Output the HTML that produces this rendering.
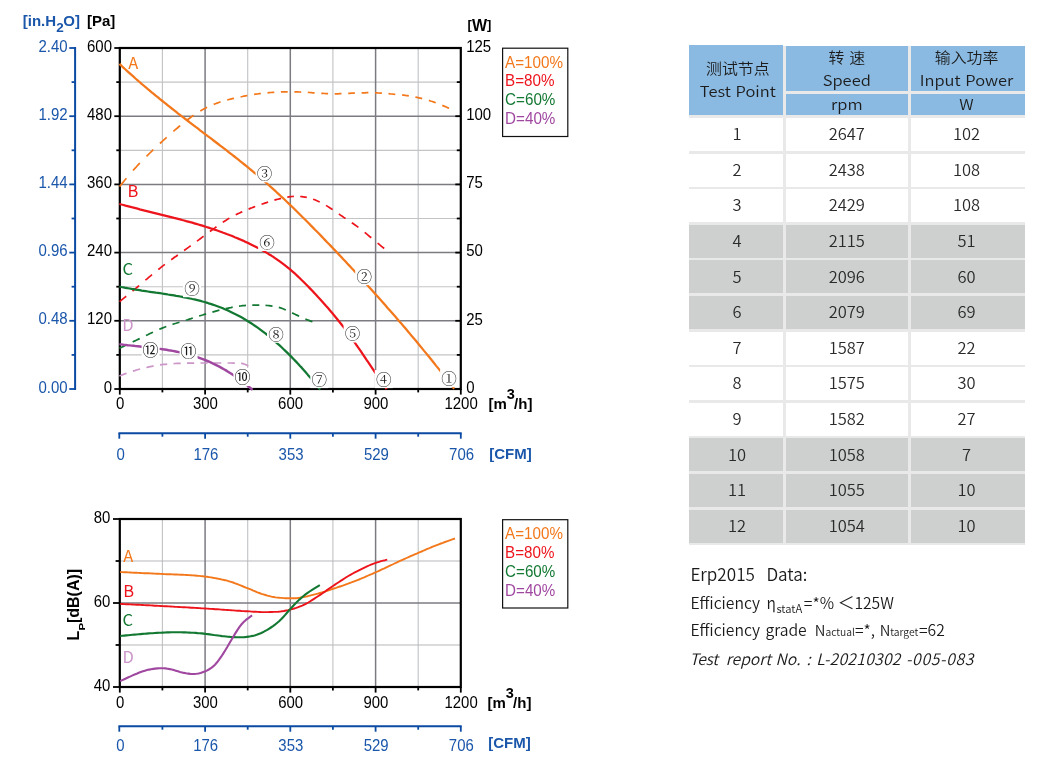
<!DOCTYPE html>
<html lang="zh">
<head>
<meta charset="utf-8">
<title>Fan performance curves</title>
<style>
html,body{margin:0;padding:0;background:#fff}
body{width:1054px;height:773px;position:relative;overflow:hidden;font-family:'Liberation Sans','Noto Sans CJK SC',sans-serif}
svg text{white-space:pre}
.sep{position:absolute;background:#e9e9ea}
.c{position:absolute;overflow:visible}
.c span{position:absolute;left:0;right:0;display:block;text-align:center;white-space:nowrap;font-family:'Noto Sans CJK SC','Liberation Sans',sans-serif;font-size:16.5px;line-height:22px;color:#1c1c1c;font-weight:350;word-spacing:1px;transform:scaleY(0.91);transform-origin:center center}
.c span.z{font-size:15.9px;word-spacing:1.5px}
.c span.g{font-size:16.5px;color:#2a2a2a;transform:scaleY(0.94)}
</style>
</head>
<body>
<svg width="1054" height="773" viewBox="0 0 1054 773" style="position:absolute;left:0;top:0">
<g id="chart1">
<line x1="162.4" y1="48" x2="162.4" y2="389" stroke="#c3c4c6" stroke-width="1.15"/>
<line x1="247.7" y1="48" x2="247.7" y2="389" stroke="#c3c4c6" stroke-width="1.15"/>
<line x1="332.9" y1="48" x2="332.9" y2="389" stroke="#c3c4c6" stroke-width="1.15"/>
<line x1="418.2" y1="48" x2="418.2" y2="389" stroke="#c3c4c6" stroke-width="1.15"/>
<line x1="119.8" y1="82.1" x2="460.8" y2="82.1" stroke="#c3c4c6" stroke-width="1.15"/>
<line x1="119.8" y1="150.3" x2="460.8" y2="150.3" stroke="#c3c4c6" stroke-width="1.15"/>
<line x1="119.8" y1="218.5" x2="460.8" y2="218.5" stroke="#c3c4c6" stroke-width="1.15"/>
<line x1="119.8" y1="286.7" x2="460.8" y2="286.7" stroke="#c3c4c6" stroke-width="1.15"/>
<line x1="119.8" y1="354.9" x2="460.8" y2="354.9" stroke="#c3c4c6" stroke-width="1.15"/>
<line x1="205.1" y1="48" x2="205.1" y2="389" stroke="#7c7b81" stroke-width="1.5"/>
<line x1="290.3" y1="48" x2="290.3" y2="389" stroke="#7c7b81" stroke-width="1.5"/>
<line x1="375.6" y1="48" x2="375.6" y2="389" stroke="#7c7b81" stroke-width="1.5"/>
<line x1="119.8" y1="116.2" x2="460.8" y2="116.2" stroke="#7c7b81" stroke-width="1.5"/>
<line x1="119.8" y1="184.4" x2="460.8" y2="184.4" stroke="#7c7b81" stroke-width="1.5"/>
<line x1="119.8" y1="252.6" x2="460.8" y2="252.6" stroke="#7c7b81" stroke-width="1.5"/>
<line x1="119.8" y1="320.8" x2="460.8" y2="320.8" stroke="#7c7b81" stroke-width="1.5"/>
<g stroke="#000" fill="none">
<rect x="119.8" y="48" width="341" height="341" stroke-width="2.2"/>
<g stroke-width="1.8">
<line x1="114.3" y1="48" x2="119.8" y2="48"/>
<line x1="455.3" y1="48" x2="460.8" y2="48"/>
<line x1="116.3" y1="82.1" x2="119.8" y2="82.1"/>
<line x1="456.8" y1="82.1" x2="460.8" y2="82.1"/>
<line x1="114.3" y1="116.2" x2="119.8" y2="116.2"/>
<line x1="455.3" y1="116.2" x2="460.8" y2="116.2"/>
<line x1="116.3" y1="150.3" x2="119.8" y2="150.3"/>
<line x1="456.8" y1="150.3" x2="460.8" y2="150.3"/>
<line x1="114.3" y1="184.4" x2="119.8" y2="184.4"/>
<line x1="455.3" y1="184.4" x2="460.8" y2="184.4"/>
<line x1="116.3" y1="218.5" x2="119.8" y2="218.5"/>
<line x1="456.8" y1="218.5" x2="460.8" y2="218.5"/>
<line x1="114.3" y1="252.6" x2="119.8" y2="252.6"/>
<line x1="455.3" y1="252.6" x2="460.8" y2="252.6"/>
<line x1="116.3" y1="286.7" x2="119.8" y2="286.7"/>
<line x1="456.8" y1="286.7" x2="460.8" y2="286.7"/>
<line x1="114.3" y1="320.8" x2="119.8" y2="320.8"/>
<line x1="455.3" y1="320.8" x2="460.8" y2="320.8"/>
<line x1="116.3" y1="354.9" x2="119.8" y2="354.9"/>
<line x1="456.8" y1="354.9" x2="460.8" y2="354.9"/>
<line x1="114.3" y1="389" x2="119.8" y2="389"/>
<line x1="455.3" y1="389" x2="460.8" y2="389"/>
<line x1="119.8" y1="389" x2="119.8" y2="394.6"/>
<line x1="162.4" y1="389" x2="162.4" y2="392.4"/>
<line x1="205.1" y1="389" x2="205.1" y2="394.6"/>
<line x1="247.7" y1="389" x2="247.7" y2="392.4"/>
<line x1="290.3" y1="389" x2="290.3" y2="394.6"/>
<line x1="332.9" y1="389" x2="332.9" y2="392.4"/>
<line x1="375.6" y1="389" x2="375.6" y2="394.6"/>
<line x1="418.2" y1="389" x2="418.2" y2="392.4"/>
<line x1="460.8" y1="389" x2="460.8" y2="394.6"/>
</g></g>
<g fill="none" stroke-linecap="butt" stroke-linejoin="round">
<path d="M119.4 376 L121.2 375.3 L123 374.6 L124.8 373.9 L126.6 373.3 M132.9 371.1 L134.7 370.6 L136.5 370 L138.3 369.5 L140.1 369 M146.4 367.5 L148.2 367.1 L150 366.7 L151.8 366.3 L153.6 365.9 M160 364.8 L161.8 364.6 L163.6 364.4 L165.4 364.3 L167.2 364.1 M173.5 363.6 L175.3 363.5 L177.1 363.4 L178.9 363.3 L180.7 363.3 M187 363.1 L188.8 363.1 L190.6 363.1 L192.4 363.1 L194.2 363.1 M200.5 363 L202.3 363 L204.1 363 L205.9 363 L207.7 363 M214.1 363 L215.9 363 L217.7 363 L219.5 363 L221.3 363 M227.6 363 L229.4 363 L231.2 363 L233 363.1 L234.8 363.1 M241.1 363.4 L242.9 363.6 L244.7 364.2 L246.5 365 L248.3 365.9" stroke="#cc96c8" stroke-width="1.7"/>
<path d="M119.4 348.3 L121.2 347.5 L122.9 346.6 L124.7 345.8 L126.4 345 M132.7 342 L134.4 341.1 L136.2 340.3 L137.9 339.4 L139.7 338.6 M146 335.5 L147.7 334.7 L149.5 333.8 L151.2 333 L153 332.2 M159.3 329.3 L161 328.6 L162.8 327.9 L164.5 327.2 L166.3 326.5 M172.5 324.4 L174.3 323.8 L176 323.3 L177.8 322.7 L179.5 322.2 M185.8 320.2 L187.6 319.7 L189.3 319.1 L191.1 318.6 L192.8 318 M199.1 316 L200.9 315.5 L202.6 315 L204.4 314.4 L206.1 313.9 M212.4 312.1 L214.1 311.6 L215.9 311.1 L217.6 310.6 L219.4 310.2 M225.7 308.7 L227.4 308.3 L229.2 307.9 L230.9 307.6 L232.7 307.2 M239 306.2 L240.7 306 L242.5 305.7 L244.2 305.6 L246 305.4 M252.3 305.1 L254 305.1 L255.8 305.1 L257.5 305.1 L259.3 305.1 M265.5 305.4 L267.3 305.5 L269 305.7 L270.8 305.9 L272.5 306.1 M278.8 307.4 L280.6 307.9 L282.3 308.5 L284.1 309.2 L285.8 310 M292.1 312.9 L293.9 313.7 L295.6 314.6 L297.4 315.4 L299.1 316.2 M305.4 319 L307.1 319.7 L308.9 320.4 L310.6 321.1 L312.4 321.8" stroke="#127832" stroke-width="1.7"/>
<path d="M119.6 301.6 L121.2 300.3 L122.9 298.9 L124.5 297.6 L126.2 296.3 M132.5 291.1 L134.2 289.7 L135.8 288.3 L137.4 287 L139.1 285.6 M145.4 280.2 L147.1 278.8 L148.7 277.4 L150.3 276.1 L152 274.7 M158.3 269.5 L160 268.2 L161.6 266.9 L163.2 265.6 L164.9 264.4 M171.2 259.7 L172.9 258.5 L174.5 257.3 L176.2 256.2 L177.8 255 M184.1 250.5 L185.8 249.3 L187.4 248.1 L189.1 246.9 L190.7 245.7 M197 241.1 L198.7 239.9 L200.3 238.7 L202 237.4 L203.6 236.2 M209.9 231.5 L211.6 230.3 L213.2 229.1 L214.9 227.9 L216.5 226.7 M222.8 222.3 L224.5 221.2 L226.1 220.2 L227.8 219.1 L229.4 218.2 M235.7 214.8 L237.4 213.9 L239 213.2 L240.7 212.4 L242.3 211.7 M248.6 209.1 L250.3 208.4 L251.9 207.8 L253.6 207.1 L255.2 206.5 M261.5 204.3 L263.2 203.7 L264.8 203.1 L266.5 202.6 L268.1 202 M274.4 200.1 L276.1 199.6 L277.7 199.2 L279.4 198.8 L281 198.4 M287.3 197.1 L289 196.9 L290.6 196.7 L292.2 196.5 L293.9 196.4 M300.2 196.5 L301.9 196.7 L303.5 196.9 L305.1 197.1 L306.8 197.4 M313.1 199.2 L314.8 199.8 L316.4 200.5 L318 201.2 L319.7 202 M326 205.4 L327.6 206.4 L329.3 207.5 L330.9 208.5 L332.6 209.6 M338.9 214 L340.5 215.1 L342.2 216.2 L343.8 217.4 L345.5 218.5 M351.8 222.7 L353.4 223.8 L355.1 225 L356.7 226.1 L358.4 227.4 M364.7 232.3 L366.3 233.7 L368 235.1 L369.6 236.5 L371.3 237.8 M377.6 243.1 L379.2 244.4 L380.9 245.8 L382.5 247.1 L384.2 248.5" stroke="#ed141c" stroke-width="1.7"/>
<path d="M119.6 186.5 L121.3 184.4 L123 182.4 L124.7 180.3 L126.4 178.3 M133 170.5 L134.7 168.6 L136.4 166.8 L138.1 164.9 L139.8 163.1 M146.5 156.3 L148.2 154.7 L149.9 153 L151.6 151.4 L153.3 149.7 M159.9 143.5 L161.6 142 L163.3 140.4 L165 138.8 L166.7 137.3 M173.4 131.4 L175.1 129.9 L176.8 128.5 L178.5 127 L180.2 125.6 M186.8 120.3 L188.5 119 L190.2 117.7 L191.9 116.5 L193.6 115.3 M200.3 111 L202 110 L203.7 109.1 L205.4 108.2 L207.1 107.3 M213.7 104.4 L215.4 103.7 L217.1 103.1 L218.8 102.5 L220.5 101.9 M227.2 100 L228.9 99.5 L230.6 99.1 L232.3 98.7 L234 98.3 M240.6 96.8 L242.3 96.5 L244 96.1 L245.7 95.8 L247.4 95.5 M254.1 94.4 L255.8 94.2 L257.5 94 L259.2 93.7 L260.9 93.5 M267.5 92.8 L269.2 92.6 L270.9 92.5 L272.6 92.4 L274.3 92.3 M280.9 91.9 L282.6 91.9 L284.3 91.8 L286 91.8 L287.7 91.8 M294.4 91.8 L296.1 91.9 L297.8 91.9 L299.5 92 L301.2 92.1 M307.8 92.4 L309.5 92.5 L311.2 92.6 L312.9 92.8 L314.6 92.9 M321.3 93.3 L323 93.4 L324.7 93.5 L326.4 93.6 L328.1 93.7 M334.7 93.8 L336.4 93.8 L338.1 93.8 L339.8 93.7 L341.5 93.6 M348.2 93.4 L349.9 93.3 L351.6 93.2 L353.3 93.1 L355 93 M361.6 92.8 L363.3 92.8 L365 92.8 L366.7 92.7 L368.4 92.7 M375.1 92.9 L376.8 92.9 L378.5 93 L380.2 93.1 L381.9 93.2 M388.5 93.7 L390.2 93.9 L391.9 94 L393.6 94.2 L395.3 94.3 M402 95 L403.7 95.1 L405.4 95.4 L407.1 95.6 L408.8 95.9 M415.4 97.1 L417.1 97.4 L418.8 97.8 L420.5 98.2 L422.2 98.6 M428.9 100.4 L430.6 101 L432.3 101.5 L434 102.1 L435.7 102.7 M442.3 105.4 L444 106.1 L445.7 106.8 L447.4 107.6 L449.1 108.3" stroke="#f3781b" stroke-width="1.7"/>
<path d="M119.4 344.1 L121.4 344.4 L123.5 344.7 L125.5 344.9 L127.6 345.2 L129.6 345.4 L131.7 345.6 L133.7 345.8 L135.8 346.1 L137.8 346.3 L139.9 346.5 L141.9 346.7 L144 347 L146 347.2 L148.1 347.4 L150.1 347.6 L152.2 347.9 L154.2 348.1 L156.3 348.4 L158.3 348.7 L160.4 348.9 L162.4 349.2 L164.5 349.5 L166.5 349.8 L168.6 350.2 L170.6 350.5 L172.7 350.9 L174.7 351.3 L176.8 351.7 L178.8 352.1 L180.9 352.6 L182.9 353 L185 353.5 L187 354.1 L189.1 354.6 L191.1 355.2 L193.2 355.8 L195.2 356.5 L197.3 357.1 L199.3 357.8 L201.4 358.6 L203.4 359.4 L205.5 360.2 L207.5 361 L209.6 361.9 L211.6 362.8 L213.7 363.8 L215.7 364.8 L217.8 365.9 L219.8 366.9 L221.9 368.1 L223.9 369.2 L226 370.4 L228 371.7 L230.1 373 L232.1 374.3 L234.2 375.7 L236.2 377.1 L238.3 378.5 L240.3 380 L242.4 381.6 L244.4 383.1 L246.5 384.8 L248.5 386.4 L250.6 388.2 L252.6 389.9" stroke="#a048a0" stroke-width="2.45"/>
<path d="M119.4 286.5 L121.4 287 L123.5 287.4 L125.5 287.8 L127.5 288.2 L129.5 288.5 L131.6 288.9 L133.6 289.2 L135.6 289.6 L137.6 289.9 L139.7 290.2 L141.7 290.6 L143.7 290.9 L145.8 291.2 L147.8 291.5 L149.8 291.8 L151.8 292.1 L153.9 292.4 L155.9 292.7 L157.9 292.9 L159.9 293.2 L162 293.5 L164 293.8 L166 294.1 L168.1 294.5 L170.1 294.8 L172.1 295.1 L174.1 295.4 L176.2 295.8 L178.2 296.1 L180.2 296.5 L182.2 296.9 L184.3 297.3 L186.3 297.7 L188.3 298.1 L190.4 298.5 L192.4 299 L194.4 299.4 L196.4 299.9 L198.5 300.4 L200.5 300.9 L202.5 301.5 L204.5 302 L206.6 302.6 L208.6 303.3 L210.6 303.9 L212.7 304.6 L214.7 305.3 L216.7 306 L218.7 306.7 L220.8 307.5 L222.8 308.3 L224.8 309.2 L226.8 310 L228.9 310.9 L230.9 311.9 L232.9 312.9 L235 313.9 L237 314.9 L239 316 L241 317.1 L243.1 318.3 L245.1 319.5 L247.1 320.7 L249.1 322 L251.2 323.3 L253.2 324.6 L255.2 326 L257.3 327.4 L259.3 328.8 L261.3 330.3 L263.3 331.8 L265.4 333.4 L267.4 335 L269.4 336.6 L271.4 338.3 L273.5 340 L275.5 341.8 L277.5 343.6 L279.6 345.4 L281.6 347.3 L283.6 349.2 L285.6 351.1 L287.7 353.1 L289.7 355.1 L291.7 357.1 L293.7 359.2 L295.8 361.4 L297.8 363.5 L299.8 365.7 L301.9 367.9 L303.9 370.2 L305.9 372.5 L307.9 374.9 L310 377.2 L312 379.6 L314 382.1 L316 384.5 L318.1 387.1 L320.1 389.6" stroke="#127832" stroke-width="2.25"/>
<path d="M119.4 203.9 L121.4 204.5 L123.5 205 L125.5 205.6 L127.5 206.1 L129.5 206.6 L131.6 207.2 L133.6 207.7 L135.6 208.2 L137.6 208.7 L139.7 209.3 L141.7 209.8 L143.7 210.3 L145.7 210.8 L147.8 211.3 L149.8 211.8 L151.8 212.3 L153.8 212.8 L155.8 213.3 L157.9 213.8 L159.9 214.3 L161.9 214.8 L163.9 215.3 L166 215.8 L168 216.3 L170 216.8 L172 217.3 L174.1 217.9 L176.1 218.4 L178.1 218.9 L180.1 219.4 L182.2 220 L184.2 220.5 L186.2 221.1 L188.2 221.6 L190.3 222.2 L192.3 222.7 L194.3 223.3 L196.3 223.9 L198.4 224.5 L200.4 225.1 L202.4 225.7 L204.4 226.3 L206.5 227 L208.5 227.6 L210.5 228.3 L212.5 228.9 L214.6 229.6 L216.6 230.3 L218.6 231 L220.6 231.7 L222.7 232.5 L224.7 233.2 L226.7 234 L228.7 234.7 L230.8 235.5 L232.8 236.3 L234.8 237.2 L236.8 238 L238.9 238.9 L240.9 239.7 L242.9 240.6 L244.9 241.6 L247 242.5 L249 243.4 L251 244.4 L253 245.4 L255.1 246.4 L257.1 247.5 L259.1 248.5 L261.1 249.6 L263.2 250.8 L265.2 251.9 L267.2 253.1 L269.2 254.4 L271.3 255.6 L273.3 256.9 L275.3 258.3 L277.3 259.7 L279.4 261.1 L281.4 262.6 L283.4 264.1 L285.4 265.7 L287.5 267.3 L289.5 268.9 L291.5 270.7 L293.5 272.4 L295.6 274.2 L297.6 276.1 L299.6 278 L301.6 280 L303.7 282 L305.7 284 L307.7 286 L309.7 288.1 L311.8 290.3 L313.8 292.4 L315.8 294.6 L317.8 296.8 L319.9 299 L321.9 301.2 L323.9 303.5 L325.9 305.8 L328 308.1 L330 310.4 L332 312.8 L334 315.2 L336.1 317.7 L338.1 320.2 L340.1 322.7 L342.1 325.3 L344.2 327.9 L346.2 330.6 L348.2 333.4 L350.2 336.2 L352.3 339 L354.3 341.9 L356.3 344.8 L358.3 347.7 L360.4 350.6 L362.4 353.6 L364.4 356.6 L366.4 359.6 L368.5 362.6 L370.5 365.6 L372.5 368.6 L374.5 371.5 L376.6 374.5 L378.6 377.5 L380.6 380.4 L382.6 383.3 L384.7 386.2 L386.7 389.1" stroke="#ed141c" stroke-width="2.25"/>
<path d="M119.4 63.9 L121.4 65.7 L123.4 67.6 L125.5 69.5 L127.5 71.3 L129.5 73.1 L131.5 74.9 L133.5 76.7 L135.5 78.5 L137.6 80.3 L139.6 82 L141.6 83.8 L143.6 85.5 L145.6 87.2 L147.6 88.9 L149.7 90.6 L151.7 92.3 L153.7 93.9 L155.7 95.6 L157.7 97.2 L159.7 98.9 L161.8 100.5 L163.8 102.1 L165.8 103.7 L167.8 105.3 L169.8 106.9 L171.8 108.5 L173.9 110.1 L175.9 111.7 L177.9 113.3 L179.9 114.8 L181.9 116.4 L183.9 117.9 L186 119.5 L188 121 L190 122.6 L192 124.1 L194 125.7 L196 127.2 L198.1 128.7 L200.1 130.3 L202.1 131.8 L204.1 133.3 L206.1 134.8 L208.1 136.4 L210.2 137.9 L212.2 139.4 L214.2 141 L216.2 142.5 L218.2 144 L220.2 145.6 L222.3 147.1 L224.3 148.7 L226.3 150.2 L228.3 151.8 L230.3 153.4 L232.3 154.9 L234.4 156.5 L236.4 158.1 L238.4 159.7 L240.4 161.3 L242.4 162.9 L244.4 164.5 L246.5 166.2 L248.5 167.8 L250.5 169.5 L252.5 171.1 L254.5 172.8 L256.5 174.5 L258.6 176.2 L260.6 178 L262.6 179.7 L264.6 181.4 L266.6 183.2 L268.6 185 L270.7 186.8 L272.7 188.6 L274.7 190.4 L276.7 192.3 L278.7 194.1 L280.7 196 L282.8 197.9 L284.8 199.8 L286.8 201.7 L288.8 203.6 L290.8 205.6 L292.9 207.5 L294.9 209.5 L296.9 211.5 L298.9 213.5 L300.9 215.5 L302.9 217.5 L305 219.5 L307 221.5 L309 223.5 L311 225.6 L313 227.6 L315 229.7 L317.1 231.8 L319.1 233.8 L321.1 235.9 L323.1 238 L325.1 240.1 L327.1 242.2 L329.2 244.3 L331.2 246.4 L333.2 248.5 L335.2 250.6 L337.2 252.8 L339.2 254.9 L341.3 257 L343.3 259.2 L345.3 261.3 L347.3 263.5 L349.3 265.6 L351.3 267.8 L353.4 270 L355.4 272.1 L357.4 274.3 L359.4 276.5 L361.4 278.7 L363.4 280.9 L365.5 283.1 L367.5 285.3 L369.5 287.5 L371.5 289.8 L373.5 292 L375.5 294.3 L377.6 296.5 L379.6 298.8 L381.6 301 L383.6 303.3 L385.6 305.6 L387.6 307.9 L389.7 310.2 L391.7 312.5 L393.7 314.8 L395.7 317.1 L397.7 319.4 L399.7 321.8 L401.8 324.1 L403.8 326.5 L405.8 328.8 L407.8 331.2 L409.8 333.6 L411.8 336 L413.9 338.4 L415.9 340.8 L417.9 343.3 L419.9 345.7 L421.9 348.1 L423.9 350.6 L426 353.1 L428 355.5 L430 358 L432 360.5 L434 363 L436 365.6 L438.1 368.1 L440.1 370.6 L442.1 373.2 L444.1 375.8 L446.1 378.4 L448.1 380.9 L450.2 383.6 L452.2 386.2 L454.2 388.8" stroke="#f3781b" stroke-width="2.25"/>
</g>
<rect x="440.1" y="369.2" width="18" height="18" fill="#fff"/>
<rect x="355.2" y="267.1" width="18" height="18" fill="#fff"/>
<rect x="255.6" y="164.3" width="18" height="18" fill="#fff"/>
<rect x="374.7" y="370.1" width="18" height="18" fill="#fff"/>
<rect x="343.6" y="324.5" width="18" height="18" fill="#fff"/>
<rect x="258.1" y="233" width="18" height="18" fill="#fff"/>
<rect x="310.3" y="370.1" width="18" height="18" fill="#fff"/>
<rect x="267" y="324.8" width="18" height="18" fill="#fff"/>
<rect x="183" y="279.2" width="18" height="18" fill="#fff"/>
<rect x="233.4" y="368" width="18" height="18" fill="#fff"/>
<rect x="179.6" y="342.4" width="18" height="18" fill="#fff"/>
<rect x="141.6" y="341" width="18" height="18" fill="#fff"/>
<g font-family="'Noto Serif CJK SC', 'Noto Sans CJK SC', 'DejaVu Sans', serif" font-size="15.6" fill="#1a1a1a" text-anchor="middle">
<text transform="translate(449.1 378.7) scale(1 0.94)" y="5.7">①</text>
<text transform="translate(364.2 276.6) scale(1 0.94)" y="5.7">②</text>
<text transform="translate(264.6 173.8) scale(1 0.94)" y="5.7">③</text>
<text transform="translate(383.7 379.6) scale(1 0.94)" y="5.7">④</text>
<text transform="translate(352.6 334) scale(1 0.94)" y="5.7">⑤</text>
<text transform="translate(267.1 242.5) scale(1 0.94)" y="5.7">⑥</text>
<text transform="translate(319.3 379.6) scale(1 0.94)" y="5.7">⑦</text>
<text transform="translate(276 334.3) scale(1 0.94)" y="5.7">⑧</text>
<text transform="translate(192 288.7) scale(1 0.94)" y="5.7">⑨</text>
<text x="242.4" y="382.9" font-family="'Noto Sans CJK SC', 'Liberation Sans', sans-serif" font-size="16">⑩</text>
<text x="188.6" y="357.3" font-family="'Noto Sans CJK SC', 'Liberation Sans', sans-serif" font-size="16">⑪</text>
<text x="150.6" y="355.9" font-family="'Noto Sans CJK SC', 'Liberation Sans', sans-serif" font-size="16">⑫</text>
</g>
<g stroke="#0a4aa3" fill="none" stroke-width="1.8">
<line x1="75.1" y1="47.1" x2="75.1" y2="389.9" stroke-width="2"/>
<line x1="69.3" y1="48" x2="75.1" y2="48"/>
<line x1="71.6" y1="82.1" x2="75.1" y2="82.1"/>
<line x1="69.3" y1="116.2" x2="75.1" y2="116.2"/>
<line x1="71.6" y1="150.3" x2="75.1" y2="150.3"/>
<line x1="69.3" y1="184.4" x2="75.1" y2="184.4"/>
<line x1="71.6" y1="218.5" x2="75.1" y2="218.5"/>
<line x1="69.3" y1="252.6" x2="75.1" y2="252.6"/>
<line x1="71.6" y1="286.7" x2="75.1" y2="286.7"/>
<line x1="69.3" y1="320.8" x2="75.1" y2="320.8"/>
<line x1="71.6" y1="354.9" x2="75.1" y2="354.9"/>
<line x1="69.3" y1="389" x2="75.1" y2="389"/>
</g>
<g stroke="#0a4aa3" fill="none" stroke-width="1.8">
<line x1="118.4" y1="433.3" x2="461.7" y2="433.3" stroke-width="2"/>
<line x1="119.3" y1="433.3" x2="119.3" y2="438.7"/>
<line x1="162.4" y1="433.3" x2="162.4" y2="436.7"/>
<line x1="205.1" y1="433.3" x2="205.1" y2="438.7"/>
<line x1="247.7" y1="433.3" x2="247.7" y2="436.7"/>
<line x1="290.3" y1="433.3" x2="290.3" y2="438.7"/>
<line x1="332.9" y1="433.3" x2="332.9" y2="436.7"/>
<line x1="375.6" y1="433.3" x2="375.6" y2="438.7"/>
<line x1="418.2" y1="433.3" x2="418.2" y2="436.7"/>
<line x1="460.8" y1="433.3" x2="460.8" y2="438.7"/>
</g>
<g font-family="'Liberation Sans', Arial, Helvetica, sans-serif" font-size="16.1" fill="#000">
<text transform="translate(112 51.6) scale(0.932 1)" text-anchor="end">600</text>
<text transform="translate(112 119.8) scale(0.932 1)" text-anchor="end">480</text>
<text transform="translate(112 188) scale(0.932 1)" text-anchor="end">360</text>
<text transform="translate(112 256.2) scale(0.932 1)" text-anchor="end">240</text>
<text transform="translate(112 324.4) scale(0.932 1)" text-anchor="end">120</text>
<text transform="translate(112 392.6) scale(0.932 1)" text-anchor="end">0</text>
<text transform="translate(466.2 51.8) scale(0.932 1)" text-anchor="start">125</text>
<text transform="translate(466.2 120) scale(0.932 1)" text-anchor="start">100</text>
<text transform="translate(466.2 188.2) scale(0.932 1)" text-anchor="start">75</text>
<text transform="translate(466.2 256.4) scale(0.932 1)" text-anchor="start">50</text>
<text transform="translate(466.2 324.6) scale(0.932 1)" text-anchor="start">25</text>
<text transform="translate(466.2 392.8) scale(0.932 1)" text-anchor="start">0</text>
<text transform="translate(120.1 408.8) scale(0.932 1)" text-anchor="middle">0</text>
<text transform="translate(205.4 408.8) scale(0.932 1)" text-anchor="middle">300</text>
<text transform="translate(290.6 408.8) scale(0.932 1)" text-anchor="middle">600</text>
<text transform="translate(375.9 408.8) scale(0.932 1)" text-anchor="middle">900</text>
<text transform="translate(461.1 408.8) scale(0.932 1)" text-anchor="middle">1200</text>
<text x="87" y="26.2" font-weight="bold" font-size="15">[Pa]</text>
<text x="467.6" y="30.6" font-weight="bold" font-size="16"><tspan font-size="13" dy="-1.2">[</tspan><tspan dy="1.2">W</tspan><tspan font-size="13" dy="-1.2">]</tspan></text>
<text x="488.5" y="408.6" font-weight="bold" font-size="15">[m<tspan font-size="14.5" dy="-9.7">3</tspan><tspan dy="9.7" dx="-0.8">/h]</tspan></text>
</g>
<g font-family="'Liberation Sans', Arial, Helvetica, sans-serif" font-size="16.1" fill="#1a56aa">
<text transform="translate(67.6 51.6) scale(0.932 1)" text-anchor="end">2.40</text>
<text transform="translate(67.6 119.8) scale(0.932 1)" text-anchor="end">1.92</text>
<text transform="translate(67.6 188) scale(0.932 1)" text-anchor="end">1.44</text>
<text transform="translate(67.6 256.2) scale(0.932 1)" text-anchor="end">0.96</text>
<text transform="translate(67.6 324.4) scale(0.932 1)" text-anchor="end">0.48</text>
<text transform="translate(67.6 392.6) scale(0.932 1)" text-anchor="end">0.00</text>
<text transform="translate(120.6 459.7) scale(0.932 1)" text-anchor="middle">0</text>
<text transform="translate(205.9 459.7) scale(0.932 1)" text-anchor="middle">176</text>
<text transform="translate(291.1 459.7) scale(0.932 1)" text-anchor="middle">353</text>
<text transform="translate(376.4 459.7) scale(0.932 1)" text-anchor="middle">529</text>
<text transform="translate(461.6 459.7) scale(0.932 1)" text-anchor="middle">706</text>
<text x="22.8" y="26.2" font-weight="bold" font-size="15">[in.H<tspan font-size="13.5" dy="6.2">2</tspan><tspan dy="-6.2" dx="-0.3">O]</tspan></text>
<text x="489.3" y="458.5" font-weight="bold" font-size="15">[CFM]</text>
</g>
<g font-family="'Noto Sans CJK SC', 'Liberation Sans', sans-serif" font-size="16.5">
<text x="128.3" y="69.0" fill="#f3781b">A</text>
<text x="127.6" y="197.0" fill="#ed141c">B</text>
<text x="122.5" y="274.8" fill="#127832">C</text>
<text x="122.2" y="331.2" fill="#cc96c8">D</text>
</g>
<rect x="502.6" y="48.2" width="65.2" height="88.3" fill="#fff" stroke="#111" stroke-width="1.2"/>
<g font-family="'Liberation Sans', Arial, Helvetica, sans-serif" font-size="16.8">
<text transform="translate(505.1 67.5) scale(0.905 1)" fill="#f3781b">A=100%</text>
<text transform="translate(505.1 86.1) scale(0.905 1)" fill="#ed141c">B=80%</text>
<text transform="translate(505.1 104.9) scale(0.905 1)" fill="#127832">C=60%</text>
<text transform="translate(505.1 124) scale(0.905 1)" fill="#a048a0">D=40%</text>
</g>
</g>
<g id="chart2">
<line x1="162.4" y1="519" x2="162.4" y2="687" stroke="#c3c4c6" stroke-width="1.15"/>
<line x1="247.7" y1="519" x2="247.7" y2="687" stroke="#c3c4c6" stroke-width="1.15"/>
<line x1="332.9" y1="519" x2="332.9" y2="687" stroke="#c3c4c6" stroke-width="1.15"/>
<line x1="418.2" y1="519" x2="418.2" y2="687" stroke="#c3c4c6" stroke-width="1.15"/>
<line x1="119.8" y1="561" x2="460.8" y2="561" stroke="#b6b7ba" stroke-width="1"/>
<line x1="119.8" y1="645" x2="460.8" y2="645" stroke="#b6b7ba" stroke-width="1"/>
<line x1="205.1" y1="519" x2="205.1" y2="687" stroke="#7c7b81" stroke-width="1.5"/>
<line x1="290.3" y1="519" x2="290.3" y2="687" stroke="#7c7b81" stroke-width="1.5"/>
<line x1="375.6" y1="519" x2="375.6" y2="687" stroke="#7c7b81" stroke-width="1.5"/>
<line x1="119.8" y1="603" x2="460.8" y2="603" stroke="#7c7b81" stroke-width="1.5"/>
<g stroke="#000" fill="none">
<rect x="119.8" y="519" width="341" height="168" stroke-width="2.2"/>
<g stroke-width="1.8">
<line x1="113" y1="519" x2="119.8" y2="519"/>
<line x1="115.6" y1="561" x2="119.8" y2="561"/>
<line x1="113" y1="603" x2="119.8" y2="603"/>
<line x1="115.6" y1="645" x2="119.8" y2="645"/>
<line x1="113" y1="687" x2="119.8" y2="687"/>
<line x1="119.8" y1="687" x2="119.8" y2="692.6"/>
<line x1="162.4" y1="687" x2="162.4" y2="690.4"/>
<line x1="205.1" y1="687" x2="205.1" y2="692.6"/>
<line x1="247.7" y1="687" x2="247.7" y2="690.4"/>
<line x1="290.3" y1="687" x2="290.3" y2="692.6"/>
<line x1="332.9" y1="687" x2="332.9" y2="690.4"/>
<line x1="375.6" y1="687" x2="375.6" y2="692.6"/>
<line x1="418.2" y1="687" x2="418.2" y2="690.4"/>
<line x1="460.8" y1="687" x2="460.8" y2="692.6"/>
</g></g>
<g fill="none" stroke-linecap="butt" stroke-linejoin="round" stroke-width="1.9">
<path d="M120.2 572 L122.2 572.1 L124.2 572.2 L126.3 572.3 L128.3 572.4 L130.3 572.5 L132.3 572.6 L134.3 572.7 L136.3 572.8 L138.4 572.9 L140.4 573 L142.4 573.1 L144.4 573.2 L146.4 573.2 L148.4 573.3 L150.5 573.4 L152.5 573.5 L154.5 573.6 L156.5 573.7 L158.5 573.8 L160.5 573.9 L162.6 574 L164.6 574.1 L166.6 574.2 L168.6 574.2 L170.6 574.3 L172.6 574.4 L174.7 574.5 L176.7 574.5 L178.7 574.6 L180.7 574.7 L182.7 574.8 L184.7 574.9 L186.8 575 L188.8 575.1 L190.8 575.2 L192.8 575.4 L194.8 575.5 L196.8 575.7 L198.9 575.9 L200.9 576.1 L202.9 576.3 L204.9 576.6 L206.9 576.8 L208.9 577.1 L211 577.4 L213 577.8 L215 578.1 L217 578.5 L219 578.9 L221 579.3 L223.1 579.8 L225.1 580.2 L227.1 580.7 L229.1 581.3 L231.1 581.9 L233.1 582.5 L235.2 583.3 L237.2 584 L239.2 584.9 L241.2 585.7 L243.2 586.5 L245.2 587.3 L247.3 588.1 L249.3 588.9 L251.3 589.7 L253.3 590.6 L255.3 591.4 L257.3 592.3 L259.4 593 L261.4 593.8 L263.4 594.4 L265.4 595 L267.4 595.6 L269.4 596.1 L271.5 596.6 L273.5 597 L275.5 597.4 L277.5 597.6 L279.5 597.8 L281.5 597.9 L283.6 598.1 L285.6 598.2 L287.6 598.3 L289.6 598.3 L291.6 598.3 L293.7 598.3 L295.7 598.2 L297.7 598 L299.7 597.7 L301.7 597.3 L303.7 597 L305.8 596.6 L307.8 596.2 L309.8 595.7 L311.8 595.2 L313.8 594.7 L315.8 594.2 L317.9 593.6 L319.9 593 L321.9 592.5 L323.9 591.8 L325.9 591.2 L327.9 590.5 L330 589.9 L332 589.2 L334 588.5 L336 587.9 L338 587.2 L340 586.5 L342.1 585.8 L344.1 585.1 L346.1 584.4 L348.1 583.7 L350.1 582.9 L352.1 582.2 L354.2 581.4 L356.2 580.6 L358.2 579.8 L360.2 579 L362.2 578.1 L364.2 577.3 L366.3 576.4 L368.3 575.5 L370.3 574.6 L372.3 573.8 L374.3 572.9 L376.3 572 L378.4 571.1 L380.4 570.1 L382.4 569.2 L384.4 568.3 L386.4 567.3 L388.4 566.4 L390.5 565.4 L392.5 564.5 L394.5 563.5 L396.5 562.6 L398.5 561.6 L400.5 560.7 L402.6 559.8 L404.6 558.9 L406.6 558 L408.6 557.1 L410.6 556.2 L412.6 555.3 L414.7 554.4 L416.7 553.6 L418.7 552.7 L420.7 551.8 L422.7 551 L424.7 550.1 L426.8 549.2 L428.8 548.4 L430.8 547.5 L432.8 546.7 L434.8 545.9 L436.8 545.1 L438.9 544.3 L440.9 543.5 L442.9 542.8 L444.9 542 L446.9 541.3 L448.9 540.6 L451 539.9 L453 539.2 L455 538.5" stroke="#f3781b"/>
<path d="M120.2 603.9 L122.2 604 L124.2 604.1 L126.3 604.2 L128.3 604.3 L130.3 604.4 L132.3 604.5 L134.4 604.6 L136.4 604.7 L138.4 604.8 L140.4 604.9 L142.5 605 L144.5 605.1 L146.5 605.2 L148.5 605.3 L150.5 605.4 L152.6 605.5 L154.6 605.7 L156.6 605.8 L158.6 605.9 L160.7 606 L162.7 606.1 L164.7 606.2 L166.7 606.3 L168.7 606.4 L170.8 606.5 L172.8 606.6 L174.8 606.8 L176.8 606.9 L178.9 607 L180.9 607.1 L182.9 607.2 L184.9 607.3 L186.9 607.4 L189 607.5 L191 607.7 L193 607.8 L195 607.9 L197.1 608 L199.1 608.1 L201.1 608.3 L203.1 608.4 L205.2 608.5 L207.2 608.6 L209.2 608.8 L211.2 608.9 L213.2 609 L215.3 609.2 L217.3 609.3 L219.3 609.4 L221.3 609.6 L223.4 609.7 L225.4 609.9 L227.4 610 L229.4 610.1 L231.5 610.3 L233.5 610.4 L235.5 610.6 L237.5 610.7 L239.5 610.8 L241.6 611 L243.6 611.1 L245.6 611.2 L247.6 611.3 L249.7 611.4 L251.7 611.6 L253.7 611.7 L255.7 611.8 L257.7 611.9 L259.8 612 L261.8 612.1 L263.8 612.1 L265.8 612.1 L267.9 612.1 L269.9 612 L271.9 612 L273.9 611.9 L276 611.9 L278 611.8 L280 611.6 L282 611.3 L284 611 L286.1 610.5 L288.1 610.1 L290.1 609.6 L292.1 609.1 L294.2 608.5 L296.2 607.9 L298.2 607.2 L300.2 606.4 L302.2 605.6 L304.3 604.7 L306.3 603.6 L308.3 602.5 L310.3 601.2 L312.4 599.9 L314.4 598.6 L316.4 597.3 L318.4 596 L320.5 594.6 L322.5 593.3 L324.5 591.9 L326.5 590.4 L328.5 589 L330.6 587.6 L332.6 586.2 L334.6 584.9 L336.6 583.5 L338.7 582.2 L340.7 580.9 L342.7 579.6 L344.7 578.3 L346.7 577 L348.8 575.8 L350.8 574.6 L352.8 573.5 L354.8 572.4 L356.9 571.4 L358.9 570.3 L360.9 569.3 L362.9 568.3 L365 567.3 L367 566.4 L369 565.5 L371 564.6 L373 563.8 L375.1 563.1 L377.1 562.4 L379.1 561.8 L381.1 561.2 L383.2 560.6 L385.2 560.2 L387.2 559.7" stroke="#ed141c"/>
<path d="M120.2 636 L122.2 635.8 L124.3 635.6 L126.3 635.4 L128.3 635.2 L130.4 635 L132.4 634.8 L134.5 634.6 L136.5 634.5 L138.5 634.3 L140.6 634.1 L142.6 633.9 L144.6 633.8 L146.7 633.6 L148.7 633.4 L150.8 633.3 L152.8 633.2 L154.8 633 L156.9 632.9 L158.9 632.8 L160.9 632.7 L163 632.6 L165 632.5 L167 632.4 L169.1 632.4 L171.1 632.3 L173.2 632.3 L175.2 632.3 L177.2 632.3 L179.3 632.3 L181.3 632.3 L183.3 632.4 L185.4 632.4 L187.4 632.5 L189.4 632.6 L191.5 632.7 L193.5 632.8 L195.6 632.9 L197.6 633.1 L199.6 633.2 L201.7 633.4 L203.7 633.6 L205.7 633.9 L207.8 634.1 L209.8 634.4 L211.9 634.7 L213.9 635 L215.9 635.2 L218 635.5 L220 635.8 L222 636.1 L224.1 636.3 L226.1 636.5 L228.1 636.7 L230.2 636.9 L232.2 637 L234.3 637.1 L236.3 637.2 L238.3 637.2 L240.4 637.2 L242.4 637.2 L244.4 637.1 L246.5 636.9 L248.5 636.6 L250.6 636.3 L252.6 635.9 L254.6 635.4 L256.7 634.8 L258.7 634 L260.7 633.2 L262.8 632.3 L264.8 631.2 L266.8 630.1 L268.9 628.8 L270.9 627.5 L273 626.1 L275 624.6 L277 623 L279.1 621.3 L281.1 619.3 L283.1 617.2 L285.2 614.9 L287.2 612.5 L289.2 610.2 L291.3 607.9 L293.3 605.7 L295.4 603.5 L297.4 601.5 L299.4 599.6 L301.5 597.7 L303.5 596 L305.5 594.4 L307.6 592.9 L309.6 591.5 L311.7 590.1 L313.7 588.8 L315.7 587.6 L317.8 586.3 L319.8 585.1" stroke="#127832" stroke-width="2.1"/>
<path d="M120.2 681.1 L122.3 680.1 L124.3 679.2 L126.4 678.2 L128.4 677.3 L130.5 676.4 L132.6 675.4 L134.6 674.5 L136.7 673.7 L138.7 672.8 L140.8 672 L142.9 671.3 L144.9 670.7 L147 670.1 L149.1 669.6 L151.1 669.2 L153.2 668.9 L155.2 668.6 L157.3 668.4 L159.4 668.2 L161.4 668.2 L163.5 668.2 L165.5 668.4 L167.6 668.7 L169.7 669.1 L171.7 669.6 L173.8 670.1 L175.8 670.7 L177.9 671.3 L180 671.9 L182 672.4 L184.1 672.9 L186.1 673.3 L188.2 673.6 L190.3 673.9 L192.3 674 L194.4 674 L196.5 673.8 L198.5 673.5 L200.6 673 L202.6 672.3 L204.7 671.6 L206.8 670.6 L208.8 669.5 L210.9 668.2 L212.9 666.6 L215 664.7 L217.1 662.3 L219.1 659.7 L221.2 656.7 L223.2 653.6 L225.3 650.2 L227.4 646.8 L229.4 643.3 L231.5 639.8 L233.6 636.3 L235.6 632.9 L237.7 629.6 L239.7 626.7 L241.8 624 L243.9 621.8 L245.9 619.9 L248 618.3 L250 616.8 L252.1 615.4" stroke="#a048a0" stroke-width="2.1"/>
</g>
<g stroke="#0a4aa3" fill="none" stroke-width="1.8">
<line x1="118.4" y1="726.3" x2="461.7" y2="726.3" stroke-width="2"/>
<line x1="119.3" y1="726.3" x2="119.3" y2="731.7"/>
<line x1="162.4" y1="726.3" x2="162.4" y2="729.7"/>
<line x1="205.1" y1="726.3" x2="205.1" y2="731.7"/>
<line x1="247.7" y1="726.3" x2="247.7" y2="729.7"/>
<line x1="290.3" y1="726.3" x2="290.3" y2="731.7"/>
<line x1="332.9" y1="726.3" x2="332.9" y2="729.7"/>
<line x1="375.6" y1="726.3" x2="375.6" y2="731.7"/>
<line x1="418.2" y1="726.3" x2="418.2" y2="729.7"/>
<line x1="460.8" y1="726.3" x2="460.8" y2="731.7"/>
</g>
<g font-family="'Liberation Sans', Arial, Helvetica, sans-serif" font-size="16.1" fill="#000">
<text transform="translate(110.4 523.4) scale(0.945 1)" text-anchor="end" font-size="15.8">80</text>
<text transform="translate(110.4 607.4) scale(0.945 1)" text-anchor="end" font-size="15.8">60</text>
<text transform="translate(110.4 691.4) scale(0.945 1)" text-anchor="end" font-size="15.8">40</text>
<text transform="translate(120.1 708.2) scale(0.945 1)" text-anchor="middle" font-size="15.8">0</text>
<text transform="translate(205.4 708.2) scale(0.945 1)" text-anchor="middle" font-size="15.8">300</text>
<text transform="translate(290.6 708.2) scale(0.945 1)" text-anchor="middle" font-size="15.8">600</text>
<text transform="translate(375.9 708.2) scale(0.945 1)" text-anchor="middle" font-size="15.8">900</text>
<text transform="translate(461.1 708.2) scale(0.945 1)" text-anchor="middle" font-size="15.8">1200</text>
<text x="487.5" y="707.8" font-weight="bold" font-size="15">[m<tspan font-size="14.5" dy="-9.7">3</tspan><tspan dy="9.7" dx="-0.8">/h]</tspan></text>
<g transform="translate(78.5 640.4) rotate(-90)" font-weight="bold" font-size="16"><text x="0" y="0">L</text><text transform="translate(9.9 6.4) scale(1.4 1)" font-size="8.2">P</text><text x="17.3" y="0">[dB(A)]</text></g>
</g>
<g font-family="'Liberation Sans', Arial, Helvetica, sans-serif" font-size="16.1" fill="#1a56aa">
<text transform="translate(120.3 750.6) scale(0.945 1)" text-anchor="middle" font-size="15.8">0</text>
<text transform="translate(205.6 750.6) scale(0.945 1)" text-anchor="middle" font-size="15.8">176</text>
<text transform="translate(290.8 750.6) scale(0.945 1)" text-anchor="middle" font-size="15.8">353</text>
<text transform="translate(376.1 750.6) scale(0.945 1)" text-anchor="middle" font-size="15.8">529</text>
<text transform="translate(461.3 750.6) scale(0.945 1)" text-anchor="middle" font-size="15.8">706</text>
<text x="488.2" y="748.4" font-weight="bold" font-size="15">[CFM]</text>
</g>
<g font-family="'Noto Sans CJK SC', 'Liberation Sans', sans-serif" font-size="16.5">
<text x="123.2" y="561.8" fill="#f3781b">A</text>
<text x="123.3" y="596.6" fill="#ed141c">B</text>
<text x="122.5" y="625.8" fill="#127832">C</text>
<text x="122.4" y="662.5" fill="#cc96c8">D</text>
</g>
<rect x="502.6" y="519.7" width="65.2" height="88.3" fill="#fff" stroke="#111" stroke-width="1.2"/>
<g font-family="'Liberation Sans', Arial, Helvetica, sans-serif" font-size="16.2">
<text transform="translate(505.1 538.6) scale(0.937 1)" fill="#f3781b">A=100%</text>
<text transform="translate(505.1 557.6) scale(0.937 1)" fill="#ed141c">B=80%</text>
<text transform="translate(505.1 576.8) scale(0.937 1)" fill="#127832">C=60%</text>
<text transform="translate(505.1 596) scale(0.937 1)" fill="#a048a0">D=40%</text>
</g>
</g>
</svg>
<div class="sep" style="left:688.9px;top:45.2px;width:336.1px;height:499.4px"></div>
<div class="sep" style="left:688.9px;top:45.2px;width:336.1px;height:1.2px;background:#fff"></div>
<div class="c h" style="left:688.9px;top:45.2px;width:94.5px;height:69.6px;background:#8abae2;"><span class="z" style="top:13.3px;padding-left:3.4px">测试节点</span><span style="top:35.3px;padding-left:3.4px">Test Point</span></div>
<div class="c h" style="left:786px;top:46.2px;width:121.6px;height:44.8px;background:#8abae2;"><span class="z" style="top:1.1px">转 速</span><span style="top:23.1px">Speed</span></div>
<div class="c h" style="left:910.5px;top:46.2px;width:114.5px;height:44.8px;background:#8abae2;"><span class="z" style="top:1.1px;padding-right:2.4px">输入功率</span><span style="top:23.1px;padding-right:2.4px">Input Power</span></div>
<div class="c h" style="left:786px;top:94.3px;width:121.6px;height:20.5px;background:#8abae2;"><span style="top:-1.6px">rpm</span></div>
<div class="c h" style="left:910.5px;top:94.3px;width:114.5px;height:20.5px;background:#8abae2;"><span style="top:-1.6px;padding-right:2.4px">W</span></div>
<div class="c d" style="left:688.9px;top:118px;width:94.5px;height:33px;background:#fff;"><span class="g" style="top:4.3px;padding-left:1.6px">1</span></div>
<div class="c d" style="left:786px;top:118px;width:121.6px;height:33px;background:#fff;"><span class="g" style="top:4.3px">2647</span></div>
<div class="c d" style="left:910.5px;top:118px;width:114.5px;height:33px;background:#fff;"><span class="g" style="top:4.3px;padding-right:2.4px">102</span></div>
<div class="c d" style="left:688.9px;top:153.6px;width:94.5px;height:33px;background:#fff;"><span class="g" style="top:4.3px;padding-left:1.6px">2</span></div>
<div class="c d" style="left:786px;top:153.6px;width:121.6px;height:33px;background:#fff;"><span class="g" style="top:4.3px">2438</span></div>
<div class="c d" style="left:910.5px;top:153.6px;width:114.5px;height:33px;background:#fff;"><span class="g" style="top:4.3px;padding-right:2.4px">108</span></div>
<div class="c d" style="left:688.9px;top:189.2px;width:94.5px;height:33px;background:#fff;"><span class="g" style="top:4.3px;padding-left:1.6px">3</span></div>
<div class="c d" style="left:786px;top:189.2px;width:121.6px;height:33px;background:#fff;"><span class="g" style="top:4.3px">2429</span></div>
<div class="c d" style="left:910.5px;top:189.2px;width:114.5px;height:33px;background:#fff;"><span class="g" style="top:4.3px;padding-right:2.4px">108</span></div>
<div class="c d" style="left:688.9px;top:224.8px;width:94.5px;height:33px;background:#ced0cf;"><span class="g" style="top:4.3px;padding-left:1.6px">4</span></div>
<div class="c d" style="left:786px;top:224.8px;width:121.6px;height:33px;background:#ced0cf;"><span class="g" style="top:4.3px">2115</span></div>
<div class="c d" style="left:910.5px;top:224.8px;width:114.5px;height:33px;background:#ced0cf;"><span class="g" style="top:4.3px;padding-right:2.4px">51</span></div>
<div class="c d" style="left:688.9px;top:260.4px;width:94.5px;height:33px;background:#ced0cf;"><span class="g" style="top:4.3px;padding-left:1.6px">5</span></div>
<div class="c d" style="left:786px;top:260.4px;width:121.6px;height:33px;background:#ced0cf;"><span class="g" style="top:4.3px">2096</span></div>
<div class="c d" style="left:910.5px;top:260.4px;width:114.5px;height:33px;background:#ced0cf;"><span class="g" style="top:4.3px;padding-right:2.4px">60</span></div>
<div class="c d" style="left:688.9px;top:296px;width:94.5px;height:33px;background:#ced0cf;"><span class="g" style="top:4.3px;padding-left:1.6px">6</span></div>
<div class="c d" style="left:786px;top:296px;width:121.6px;height:33px;background:#ced0cf;"><span class="g" style="top:4.3px">2079</span></div>
<div class="c d" style="left:910.5px;top:296px;width:114.5px;height:33px;background:#ced0cf;"><span class="g" style="top:4.3px;padding-right:2.4px">69</span></div>
<div class="c d" style="left:688.9px;top:331.6px;width:94.5px;height:33px;background:#fff;"><span class="g" style="top:4.3px;padding-left:1.6px">7</span></div>
<div class="c d" style="left:786px;top:331.6px;width:121.6px;height:33px;background:#fff;"><span class="g" style="top:4.3px">1587</span></div>
<div class="c d" style="left:910.5px;top:331.6px;width:114.5px;height:33px;background:#fff;"><span class="g" style="top:4.3px;padding-right:2.4px">22</span></div>
<div class="c d" style="left:688.9px;top:367.2px;width:94.5px;height:33px;background:#fff;"><span class="g" style="top:4.3px;padding-left:1.6px">8</span></div>
<div class="c d" style="left:786px;top:367.2px;width:121.6px;height:33px;background:#fff;"><span class="g" style="top:4.3px">1575</span></div>
<div class="c d" style="left:910.5px;top:367.2px;width:114.5px;height:33px;background:#fff;"><span class="g" style="top:4.3px;padding-right:2.4px">30</span></div>
<div class="c d" style="left:688.9px;top:402.8px;width:94.5px;height:33px;background:#fff;"><span class="g" style="top:4.3px;padding-left:1.6px">9</span></div>
<div class="c d" style="left:786px;top:402.8px;width:121.6px;height:33px;background:#fff;"><span class="g" style="top:4.3px">1582</span></div>
<div class="c d" style="left:910.5px;top:402.8px;width:114.5px;height:33px;background:#fff;"><span class="g" style="top:4.3px;padding-right:2.4px">27</span></div>
<div class="c d" style="left:688.9px;top:438.4px;width:94.5px;height:33px;background:#ced0cf;"><span class="g" style="top:4.3px;padding-left:1.6px">10</span></div>
<div class="c d" style="left:786px;top:438.4px;width:121.6px;height:33px;background:#ced0cf;"><span class="g" style="top:4.3px">1058</span></div>
<div class="c d" style="left:910.5px;top:438.4px;width:114.5px;height:33px;background:#ced0cf;"><span class="g" style="top:4.3px;padding-right:2.4px">7</span></div>
<div class="c d" style="left:688.9px;top:474px;width:94.5px;height:33px;background:#ced0cf;"><span class="g" style="top:4.3px;padding-left:1.6px">11</span></div>
<div class="c d" style="left:786px;top:474px;width:121.6px;height:33px;background:#ced0cf;"><span class="g" style="top:4.3px">1055</span></div>
<div class="c d" style="left:910.5px;top:474px;width:114.5px;height:33px;background:#ced0cf;"><span class="g" style="top:4.3px;padding-right:2.4px">10</span></div>
<div class="c d" style="left:688.9px;top:509.6px;width:94.5px;height:33px;background:#ced0cf;"><span class="g" style="top:4.3px;padding-left:1.6px">12</span></div>
<div class="c d" style="left:786px;top:509.6px;width:121.6px;height:33px;background:#ced0cf;"><span class="g" style="top:4.3px">1054</span></div>
<div class="c d" style="left:910.5px;top:509.6px;width:114.5px;height:33px;background:#ced0cf;"><span class="g" style="top:4.3px;padding-right:2.4px">10</span></div>
<svg width="1054" height="773" viewBox="0 0 1054 773" style="position:absolute;left:0;top:0">
<g font-family="'Noto Sans CJK SC', 'Liberation Sans', sans-serif" font-size="15.7" font-weight="350" fill="#1a1a1a">
<text x="690.4" y="580.9" font-size="17.1">Erp2015</text>
<text x="766.4" y="580.9" font-size="17.1">Data:</text>
<text x="690.4" y="608.5">Efficiency</text>
<text x="766.6" y="608.5">η</text>
<text x="776.4" y="612.6" font-size="11.2">statA</text>
<text x="803.8" y="608.5">=*%</text>
<text x="837.6" y="608.9" font-size="17.2">＜</text>
<text x="854.4" y="608.5">125W</text>
<text x="690.4" y="635.6">Efficiency</text>
<text x="765.4" y="635.6">grade</text>
<text x="814.8" y="635.6" font-size="14.8">N</text>
<text x="825.4" y="635.6" font-size="10.3">actual</text>
<text x="855" y="635.6">=*,</text>
<text x="879.8" y="635.6" font-size="14.8">N</text>
<text x="890.2" y="635.6" font-size="10.3">target</text>
<text x="919" y="635.6">=62</text>
<g font-style="italic">
<text x="689.4" y="664.8" letter-spacing="-0.3">Test</text>
<text x="725.8" y="664.8">report</text>
<text x="775.6" y="664.8">No.</text>
<text x="806.6" y="664.8">:</text>
<text x="816.2" y="664.8" letter-spacing="0.28">L-20210302</text>
<text x="906" y="664.8" letter-spacing="0.72">-005-083</text>
</g>
</g></svg>
</body>
</html>
